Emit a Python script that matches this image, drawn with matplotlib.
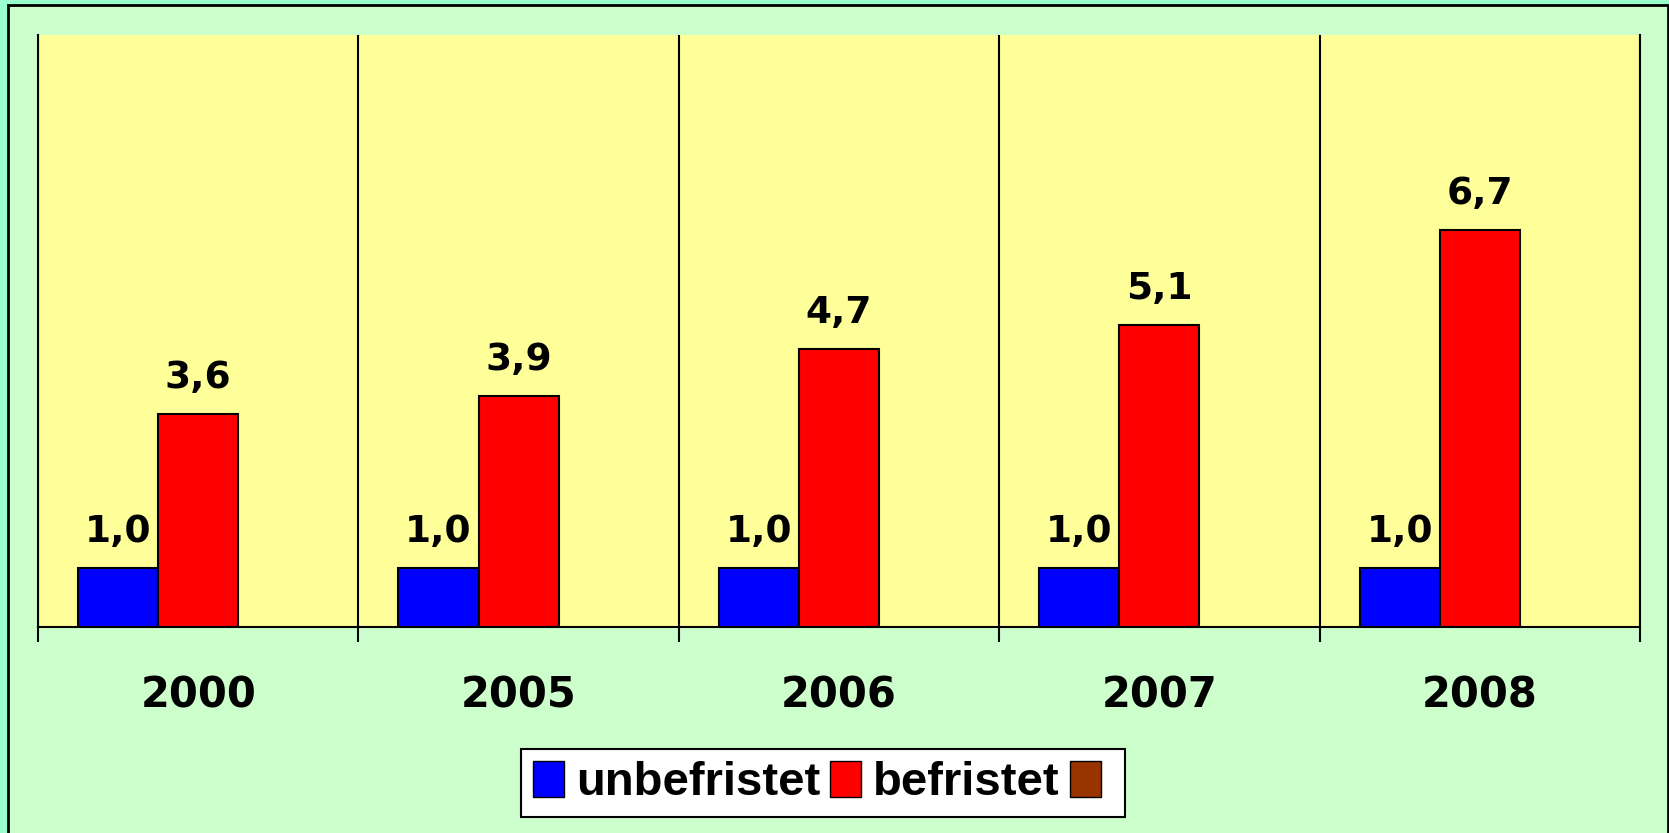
import numpy as np
import matplotlib.pyplot as plt
from matplotlib.patches import Rectangle, Patch

years = ["2000", "2005", "2006", "2007", "2008"]
unbefristet = [1.0, 1.0, 1.0, 1.0, 1.0]
befristet = [3.6, 3.9, 4.7, 5.1, 6.7]
third = [0, 0, 0, 0, 0]  # empty third series, only shows in the legend

fig = plt.figure(figsize=(16.69, 8.33), dpi=100, facecolor='#99FFCC')
fig.patches.append(Rectangle((8 / 1669, -0.01), 1660 / 1669, 1 - 5 / 833 + 0.01,
                             transform=fig.transFigure, facecolor='#CCFFCC',
                             edgecolor='black', linewidth=2, zorder=-10))

ax = fig.add_axes([38 / 1669, 1 - 627 / 833, 1602 / 1669, 592 / 833])
ax.set_facecolor('#FFFF99')

x = np.arange(len(years))
w = 0.25
b1 = ax.bar(x + 0.25, unbefristet, w, color='#0000FF', edgecolor='black', linewidth=1.5)
b2 = ax.bar(x + 0.5, befristet, w, color='#FF0000', edgecolor='black', linewidth=1.5)
ax.bar(x + 0.75, third, w, color='#993300', edgecolor='none')

fmt = lambda v: "{:.1f}".format(v).replace('.', ',')
for bars, vals in [(b1, unbefristet), (b2, befristet)]:
    ax.bar_label(bars, labels=[fmt(v) for v in vals], padding=13,
                 fontsize=27, fontweight='bold', family='DejaVu Sans')

ax.set_xlim(0, 5)
ax.set_ylim(0, 10)
ax.set_yticks([])
ax.set_xticks(np.arange(0, 6))
ax.set_xticklabels([])
ax.tick_params(axis='x', which='major', direction='out', length=11, width=1.5, color='black')
ax.set_xticks(x + 0.5, minor=True)
ax.set_xticklabels(years, minor=True, fontsize=30, fontweight='bold', family='DejaVu Sans')
ax.tick_params(axis='x', which='minor', length=0, pad=34)
ax.grid(axis='x', which='major', color='black', linewidth=1.5)
ax.set_axisbelow(True)
ax.spines['top'].set_visible(False)
for s in ['left', 'right', 'bottom']:
    ax.spines[s].set_color('black')
    ax.spines[s].set_linewidth(1.5)

handles = [Patch(facecolor='#0000FF', edgecolor='black'),
           Patch(facecolor='#FF0000', edgecolor='black'),
           Patch(facecolor='#993300', edgecolor='black')]
leg = fig.legend(handles, ['unbefristet', 'befristet', ''], loc='center',
                 bbox_to_anchor=(823 / 1669, 1 - 783 / 833), ncol=3,
                 prop={'family': 'Liberation Sans', 'weight': 'bold', 'size': 34},
                 handlelength=0.66, handleheight=0.8, handletextpad=0.25,
                 columnspacing=0.22, borderpad=0.25, borderaxespad=0, fancybox=False,
                 framealpha=1, edgecolor='black', facecolor='white')
leg.get_frame().set_linewidth(1.5)

fig.savefig("out.png", dpi=100, facecolor=fig.get_facecolor())
